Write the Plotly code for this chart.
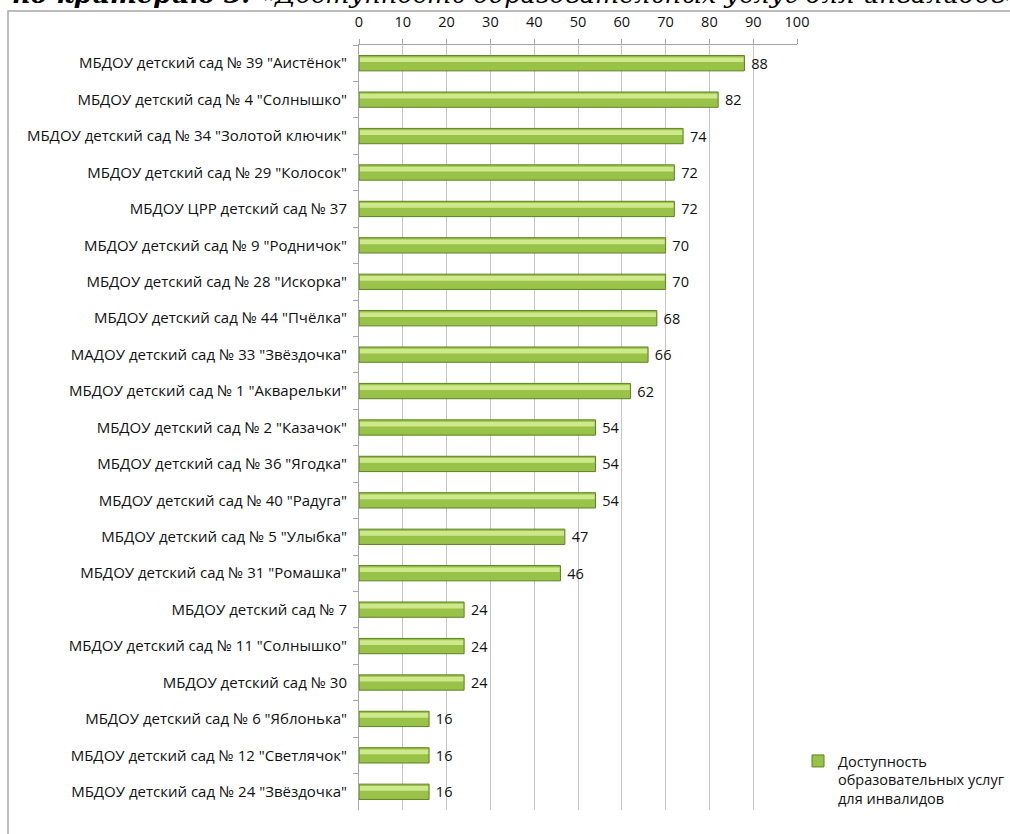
import plotly.graph_objects as go

categories = [
    'МБДОУ детский сад № 39 "Аистёнок"',
    'МБДОУ детский сад № 4 "Солнышко"',
    'МБДОУ детский сад № 34 "Золотой ключик"',
    'МБДОУ детский сад № 29 "Колосок"',
    'МБДОУ ЦРР детский сад № 37',
    'МБДОУ детский сад № 9 "Родничок"',
    'МБДОУ детский сад № 28 "Искорка"',
    'МБДОУ детский сад № 44 "Пчёлка"',
    'МАДОУ детский сад № 33 "Звёздочка"',
    'МБДОУ детский сад № 1 "Акварельки"',
    'МБДОУ детский сад № 2 "Казачок"',
    'МБДОУ детский сад № 36 "Ягодка"',
    'МБДОУ детский сад № 40 "Радуга"',
    'МБДОУ детский сад № 5 "Улыбка"',
    'МБДОУ детский сад № 31 "Ромашка"',
    'МБДОУ детский сад № 7',
    'МБДОУ детский сад № 11 "Солнышко"',
    'МБДОУ детский сад № 30',
    'МБДОУ детский сад № 6 "Яблонька"',
    'МБДОУ детский сад № 12 "Светлячок"',
    'МБДОУ детский сад № 24 "Звёздочка"',
]
values = [88, 82, 74, 72, 72, 70, 70, 68, 66, 62, 54, 54, 54, 47, 46, 24, 24, 24, 16, 16, 16]
series_name = "Доступность<br>образовательных услуг<br>для инвалидов"
x_ticks = [0, 10, 20, 30, 40, 50, 60, 70, 80, 90, 100]
title_text = "<b><i>по критерию 3:</i></b><i> «Доступность образовательных услуг для инвалидов»</i>"

W, H = 1010, 834
L, R, T, B = 359, 797, 45, 810
FONT = "Open Sans"
FS = 14.5

def px_x(p):
    return (p - L) / (R - L)

def px_y(p):
    return (B - p) / (B - T)

fig = go.Figure()
fig.add_trace(go.Bar(
    y=categories, x=values, orientation="h", name=series_name,
    width=0.42, offset=-0.21,
    marker=dict(color="#98c348", line=dict(color="#5e8224", width=1)),
    text=values, texttemplate="\u00a0%{x}", textposition="outside",
    cliponaxis=False, constraintext="none",
    textfont=dict(family=FONT, size=FS, color="#111111"),
))
fig.add_trace(go.Bar(
    y=categories, x=[v - 0.4 for v in values], orientation="h",
    width=0.13, offset=-0.16, base=0.2,
    marker=dict(color="rgba(216,238,152,0.85)", line=dict(width=0)),
    showlegend=False, hoverinfo="skip",
))

fig.update_layout(
    width=W, height=H,
    margin=dict(l=L, r=W - R, t=T, b=H - B, pad=0, autoexpand=False),
    paper_bgcolor="white", plot_bgcolor="white",
    barmode="overlay",
    font=dict(family=FONT, size=FS, color="#111111"),
    showlegend=True,
    legend=dict(xref="container", yref="container",
                x=798 / W, y=1 - 745 / H, xanchor="left", yanchor="top",
                font=dict(family=FONT, size=FS, color="#111111"),
                valign="top", tracegroupgap=0, itemwidth=30,
                bgcolor="rgba(0,0,0,0)"),
    xaxis=dict(side="top", range=[0, 100], tickvals=x_ticks,
               showgrid=True, gridcolor="#c4c4c4", gridwidth=1,
               showline=True, linecolor="#a6a6a6", linewidth=1,
               ticks="outside", ticklen=5, tickcolor="#a6a6a6",
               ticklabelstandoff=6, automargin=False,
               zeroline=False, fixedrange=True),
    yaxis=dict(autorange="reversed", type="category",
               showline=True, linecolor="#a6a6a6", linewidth=1,
               ticks="outside", ticklen=5, tickcolor="#a6a6a6",
               tickson="boundaries", showgrid=False, ticklabelstandoff=8,
               tickfont=dict(family=FONT, size=15, color="#111111"),
               automargin=False),
    shapes=[dict(type="rect", xref="paper", yref="paper",
                 x0=px_x(8), x1=px_x(1300), y0=px_y(1100), y1=px_y(11),
                 line=dict(color="#a6a6a6", width=1.5), fillcolor="rgba(0,0,0,0)",
                 layer="below")],
    annotations=[dict(text=title_text, xref="paper", yref="paper",
                      x=px_x(10), y=px_y(11), xanchor="left", yanchor="bottom",
                      showarrow=False,
                      font=dict(family="DejaVu Serif", size=25.5, color="#000000"))],
)

fig.write_html("out.html", config={"displayModeBar": False},
               post_script="document.body.style.margin='0';document.body.style.overflow='hidden';")
